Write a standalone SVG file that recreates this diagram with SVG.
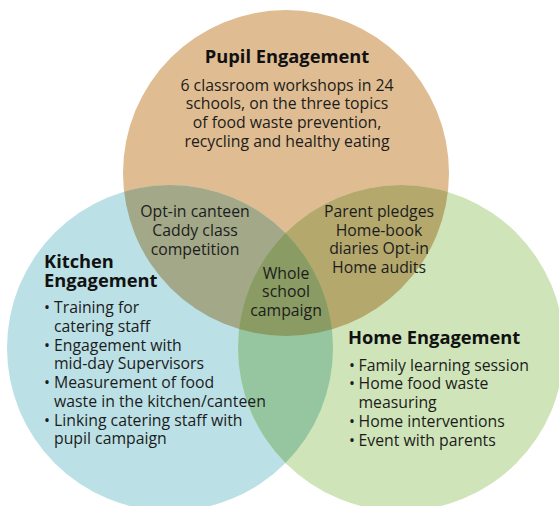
<svg xmlns="http://www.w3.org/2000/svg" width="559" height="506" viewBox="0 0 559 506">
  <style>
    text { font-family: "Open Sans", "Liberation Sans", sans-serif; fill: #1c1c1c; }
    .title { font-size: 18.3px; font-weight: bold; fill: #111; }
    .body { font-size: 15.8px; }
    .mid { text-anchor: middle; }
  </style>
  <defs>
    <circle id="cTop" cx="286" cy="173" r="163"/>
    <circle id="cLeft" cx="170" cy="348" r="163"/>
    <circle id="cRight" cx="401" cy="348" r="163"/>
    <clipPath id="clipTop"><use href="#cTop"/></clipPath>
    <clipPath id="clipLeft"><use href="#cLeft"/></clipPath>
    <clipPath id="clipRight"><use href="#cRight"/></clipPath>
  </defs>

  <rect width="559" height="506" fill="#ffffff"/>

  <!-- base circles -->
  <g id="circles">
    <use href="#cTop" fill="#dfbc91"/>
    <use href="#cLeft" fill="#bbe0e6"/>
    <use href="#cRight" fill="#cfe4b8"/>
    <!-- pairwise overlaps -->
    <g clip-path="url(#clipTop)"><use href="#cLeft" fill="#a2a888"/></g>
    <g clip-path="url(#clipTop)"><use href="#cRight" fill="#b4a86c"/></g>
    <g clip-path="url(#clipLeft)"><use href="#cRight" fill="#95c6a0"/></g>
    <!-- triple overlap -->
    <g clip-path="url(#clipTop)"><g clip-path="url(#clipLeft)"><use href="#cRight" fill="#8a9b63"/></g></g>
  </g>

  <g id="pupil">
    <text class="title mid" x="287" y="63">Pupil Engagement</text>
    <text class="body mid" x="287" y="90.5">6 classroom workshops in 24</text>
    <text class="body mid" x="287" y="109">schools, on the three topics</text>
    <text class="body mid" x="287" y="128">of food waste prevention,</text>
    <text class="body mid" x="287" y="146.5">recycling and healthy eating</text>
  </g>

  <g id="kitchen">
    <text class="title" x="44" y="268">Kitchen</text>
    <text class="title" x="44" y="287">Engagement</text>
    <text class="body" x="44" y="312.5">•</text>
    <text class="body" x="54" y="312.5">Training for</text>
    <text class="body" x="54" y="331.5">catering staff</text>
    <text class="body" x="44" y="350.5">•</text>
    <text class="body" x="54" y="350.5">Engagement with</text>
    <text class="body" x="54" y="369">mid-day Supervisors</text>
    <text class="body" x="44" y="388">•</text>
    <text class="body" x="54" y="388">Measurement of food</text>
    <text class="body" x="54" y="406.5">waste in the kitchen/canteen</text>
    <text class="body" x="44" y="425.5">•</text>
    <text class="body" x="54" y="425.5">Linking catering staff with</text>
    <text class="body" x="54" y="444">pupil campaign</text>
  </g>

  <g id="home">
    <text class="title" x="348" y="344">Home Engagement</text>
    <text class="body" x="349" y="370.5">•</text>
    <text class="body" x="358.5" y="370.5">Family learning session</text>
    <text class="body" x="349" y="389">•</text>
    <text class="body" x="358.5" y="389">Home food waste</text>
    <text class="body" x="358.5" y="407.5">measuring</text>
    <text class="body" x="349" y="426.5">•</text>
    <text class="body" x="358.5" y="426.5">Home interventions</text>
    <text class="body" x="349" y="445.5">•</text>
    <text class="body" x="358.5" y="445.5">Event with parents</text>
  </g>

  <g id="pupil-kitchen">
    <text class="body mid" x="195" y="216.5">Opt-in canteen</text>
    <text class="body mid" x="195" y="235.5">Caddy class</text>
    <text class="body mid" x="195" y="254.5">competition</text>
  </g>

  <g id="pupil-home">
    <text class="body mid" x="379" y="216.5">Parent pledges</text>
    <text class="body mid" x="379" y="235.5">Home-book</text>
    <text class="body mid" x="379" y="254">diaries Opt-in</text>
    <text class="body mid" x="379" y="273">Home audits</text>
  </g>

  <g id="whole-school">
    <text class="body mid" x="286" y="279">Whole</text>
    <text class="body mid" x="286" y="297">school</text>
    <text class="body mid" x="286" y="315.5">campaign</text>
  </g>
</svg>
